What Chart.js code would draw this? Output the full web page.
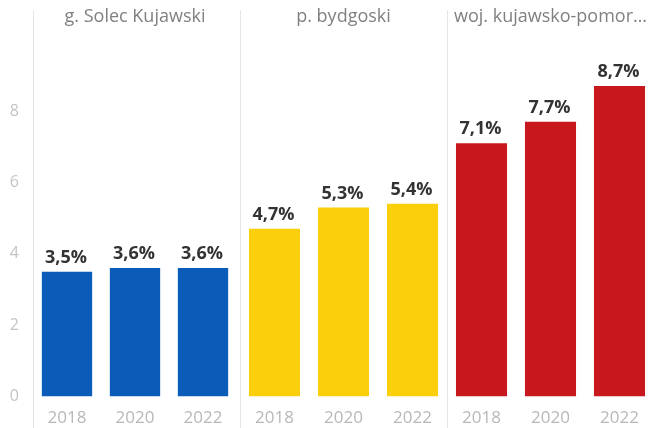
<!DOCTYPE html>
<html>
<head>
<meta charset="utf-8">
<script src="https://cdn.jsdelivr.net/npm/chart.js@4"></script>
<style>
  html, body { margin: 0; padding: 0; background: #fff; }
  #wrap { position: relative; width: 654px; height: 428px; overflow: hidden; }
  .panel { position: absolute; top: 0; height: 428px; }
</style>
</head>
<body>
<div id="wrap">
  <div class="panel" style="left:0;width:237px"><canvas id="c0"></canvas></div>
  <div class="panel" style="left:237px;width:210px"><canvas id="c1"></canvas></div>
  <div class="panel" style="left:447px;width:207px"><canvas id="c2"></canvas></div>
</div>
<script>
const years = ["2018", "2020", "2022"];
const regions = ["g. Solec Kujawski", "p. bydgoski", "woj. kujawsko-pomor…"];
const solecValues = [3.5, 3.6, 3.6];
const bydgoskiValues = [4.7, 5.3, 5.4];
const wojValues = [7.1, 7.7, 8.7];
const yTicks = [0, 2, 4, 6, 8];

const seriesValues = [solecValues, bydgoskiValues, wojValues];
const colors = ["#0b5cb8", "#fbcf0c", "#c8181d"];

// value labels above each bar, "3,5%" style
const barLabels = {
  id: "barLabels",
  afterDatasetsDraw(chart) {
    const ctx = chart.ctx;
    const ds = chart.data.datasets[0];
    ctx.save();
    ctx.font = "bold 18px 'Open Sans'";
    ctx.fillStyle = "#333";
    ctx.textAlign = "center";
    ctx.textBaseline = "bottom";
    chart.getDatasetMeta(0).data.forEach((bar, i) => {
      const txt = ds.data[i].toFixed(1).replace(".", ",") + "%";
      ctx.fillText(txt, bar.x - 1, bar.y - 5);
    });
    ctx.restore();
  }
};

// thin vertical rule on the left edge of each panel
const divider = {
  id: "divider",
  beforeDraw(chart) {
    const ctx = chart.ctx;
    const x = Math.round(chart.chartArea.left) + 0.5;
    ctx.save();
    ctx.strokeStyle = "#e4e4e4";
    ctx.lineWidth = 1;
    ctx.beginPath();
    ctx.moveTo(x, 10);
    ctx.lineTo(x, chart.height);
    ctx.stroke();
    ctx.restore();
  }
};

function makePanel(idx) {
  const first = idx === 0;
  return new Chart(document.getElementById("c" + idx), {
    type: "bar",
    data: {
      labels: years,
      datasets: [{
        data: seriesValues[idx],
        backgroundColor: colors[idx],
        barPercentage: 0.74,
        categoryPercentage: 1
      }]
    },
    options: {
      responsive: true,
      maintainAspectRatio: false,
      animation: false,
      layout: { padding: { left: idx === 1 ? 3 : 0, right: 0, top: 0, bottom: 0 } },
      plugins: {
        legend: { display: false },
        tooltip: { enabled: false },
        title: {
          display: true,
          text: regions[idx],
          fullSize: false,
          color: "#808080",
          font: { family: "'Open Sans'", size: 18, weight: "normal" },
          padding: { top: 6, bottom: 12 }
        }
      },
      scales: {
        x: {
          grid: { display: false, tickLength: 11 },
          border: { display: false },
          ticks: {
            color: "#b8b8b8",
            padding: 0,
            font: { family: "'Open Sans'", size: 17 }
          }
        },
        y: {
          display: first,
          min: 0,
          max: 10,
          grid: { display: false },
          border: { display: false },
          afterBuildTicks(scale) {
            scale.ticks = yTicks.map(v => ({ value: v }));
          },
          afterFit(scale) {
            if (first) scale.width = 33;
          },
          ticks: {
            color: "#c4c4c4",
            padding: 6,
            font: { family: "'Open Sans'", size: 16 }
          }
        }
      }
    },
    plugins: [divider, barLabels]
  });
}

[0, 1, 2].forEach(makePanel);
</script>
</body>
</html>
